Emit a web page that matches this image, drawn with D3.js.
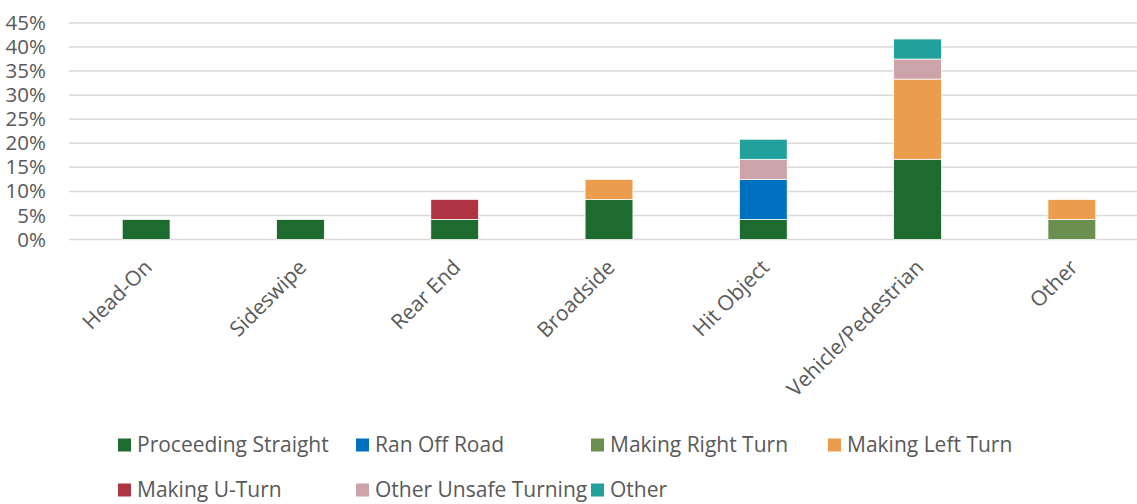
<!DOCTYPE html>
<html>
<head>
<meta charset="utf-8">
<script src="https://cdn.jsdelivr.net/npm/d3@7"></script>
<style>
  html, body { margin: 0; padding: 0; background: #fff; }
  svg { display: block; }
  text { font-family: "Open Sans", sans-serif; fill: #595959; }
</style>
</head>
<body>
<svg id="chart" width="1137" height="504"></svg>
<script>
// Collision types along the x axis
const categories = ["Head-On", "Sideswipe", "Rear End", "Broadside", "Hit Object", "Vehicle/Pedestrian", "Other"];

// Movement preceding the collision (stack order, bottom to top)
const seriesNames = ["Proceeding Straight", "Ran Off Road", "Making Right Turn", "Making Left Turn", "Making U-Turn", "Other Unsafe Turning", "Other"];
const seriesColors = ["#1E6B30", "#0070C0", "#6A8F4E", "#EB9D4D", "#AE3444", "#CCA3A8", "#21A09C"];

// Share of collisions (%) per series, one value per category
const proceedingStraight = [4.17, 4.17, 4.17, 8.33, 4.17, 16.67, 0];
const ranOffRoad         = [0, 0, 0, 0, 8.33, 0, 0];
const makingRightTurn    = [0, 0, 0, 0, 0, 0, 4.17];
const makingLeftTurn     = [0, 0, 0, 4.17, 0, 16.67, 4.17];
const makingUTurn        = [0, 0, 4.17, 0, 0, 0, 0];
const otherUnsafeTurning = [0, 0, 0, 0, 4.17, 4.17, 0];
const otherMovement      = [0, 0, 0, 0, 4.17, 4.17, 0];

const yTicks = [0, 5, 10, 15, 20, 25, 30, 35, 40, 45];

const seriesValues = [proceedingStraight, ranOffRoad, makingRightTurn, makingLeftTurn, makingUTurn, otherUnsafeTurning, otherMovement];

// Rows for d3.stack
const rows = categories.map((c, i) => {
  const r = { category: c };
  seriesNames.forEach((s, j) => { r[s] = seriesValues[j][i]; });
  return r;
});
const stacked = d3.stack().keys(seriesNames)(rows);

const svg = d3.select("#chart");
const plot = { left: 69, right: 1149, top: 23, bottom: 239.5 };
const fontFamily = "'Open Sans', sans-serif";
const fontSize = 21;

const x = d3.scaleBand().domain(categories).range([plot.left, plot.right]).paddingInner(0.69).paddingOuter(0.345);
const y = d3.scaleLinear().domain([0, 45]).range([plot.bottom, plot.top]);

// Horizontal gridlines
svg.append("g").selectAll("line").data(yTicks).join("line")
  .attr("x1", plot.left).attr("x2", plot.right)
  .attr("y1", d => y(d)).attr("y2", d => y(d))
  .attr("stroke", "#D9D9D9").attr("stroke-width", 1.5);

// Y axis labels
const yAxis = d3.axisLeft(y).tickValues(yTicks).tickFormat(d => d + "%").tickSize(0).tickPadding(0);
const yg = svg.append("g").attr("transform", "translate(46,0)").call(yAxis);
yg.select(".domain").remove();
yg.selectAll("text").attr("font-size", 20.5).attr("fill", "#595959")
  .style("font-family", fontFamily);

// Stacked bars
svg.append("g").selectAll("g").data(stacked).join("g")
  .attr("fill", (d, i) => seriesColors[i])
  .selectAll("rect").data(d => d.filter(p => p[1] - p[0] > 0)).join("rect")
  .attr("x", d => x(d.data.category))
  .attr("width", x.bandwidth())
  .attr("y", d => y(d[1]))
  .attr("height", d => y(d[0]) - y(d[1]))
  .attr("stroke", "#ffffff").attr("stroke-width", 0.75);

// Rotated category labels
const xAxis = d3.axisBottom(x).tickSize(0).tickPadding(0);
const xg = svg.append("g").attr("transform", `translate(0,${plot.bottom})`).call(xAxis);
xg.select(".domain").remove();
xg.selectAll("text")
  .attr("font-size", fontSize).attr("fill", "#595959")
  .style("font-family", fontFamily)
  .attr("text-anchor", "end")
  .attr("dy", "0.35em").attr("y", 0)
  .attr("transform", "translate(2,24) rotate(-45)");

// Legend in two rows
const legendCols = [118, 356, 591, 828];
const legendRows = [445, 490];
const legend = svg.append("g").selectAll("g").data(seriesNames).join("g")
  .attr("transform", (d, i) => `translate(${legendCols[i % 4]},${legendRows[Math.floor(i / 4)]})`);
legend.append("rect")
  .attr("x", 0).attr("y", -6.5).attr("width", 13).attr("height", 13)
  .attr("fill", (d, i) => seriesColors[i]);
legend.append("text")
  .attr("x", 19).attr("y", 0).attr("dy", "0.35em")
  .attr("font-size", fontSize)
  .text(d => d);
</script>
</body>
</html>
